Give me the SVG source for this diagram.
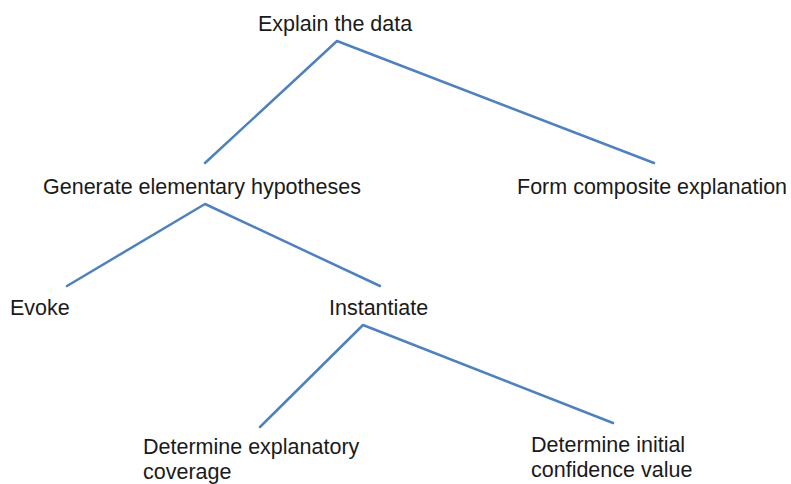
<svg xmlns="http://www.w3.org/2000/svg" width="791" height="484" viewBox="0 0 791 484">
<style>
.t{font-family:"Liberation Sans",Arial,sans-serif;font-size:21.5px;fill:#1a1a1a}
.e{stroke:#4f81bd;stroke-width:2.5;fill:none;stroke-linecap:round;stroke-linejoin:round}
</style>
<rect width="791" height="484" fill="#ffffff"/>
<g id="connectors">
<polyline class="e" points="205,163 337,41 654,163"/>
<polyline class="e" points="67,286 205,204 380,286"/>
<polyline class="e" points="260,427 363,325 613,423"/>
</g>
<g id="explain"><text class="t" x="258" y="31">Explain the data</text></g>
<g id="generate"><text class="t" x="43" y="194">Generate elementary hypotheses</text></g>
<g id="form"><text class="t" x="517" y="194">Form composite explanation</text></g>
<g id="evoke"><text class="t" x="10" y="315">Evoke</text></g>
<g id="instantiate"><text class="t" x="329" y="315">Instantiate</text></g>
<g id="coverage"><text class="t" x="143" y="454">Determine explanatory<tspan x="143" dy="25">coverage</tspan></text></g>
<g id="confidence"><text class="t" x="531" y="452">Determine initial<tspan x="531" dy="25">confidence value</tspan></text></g>
</svg>
